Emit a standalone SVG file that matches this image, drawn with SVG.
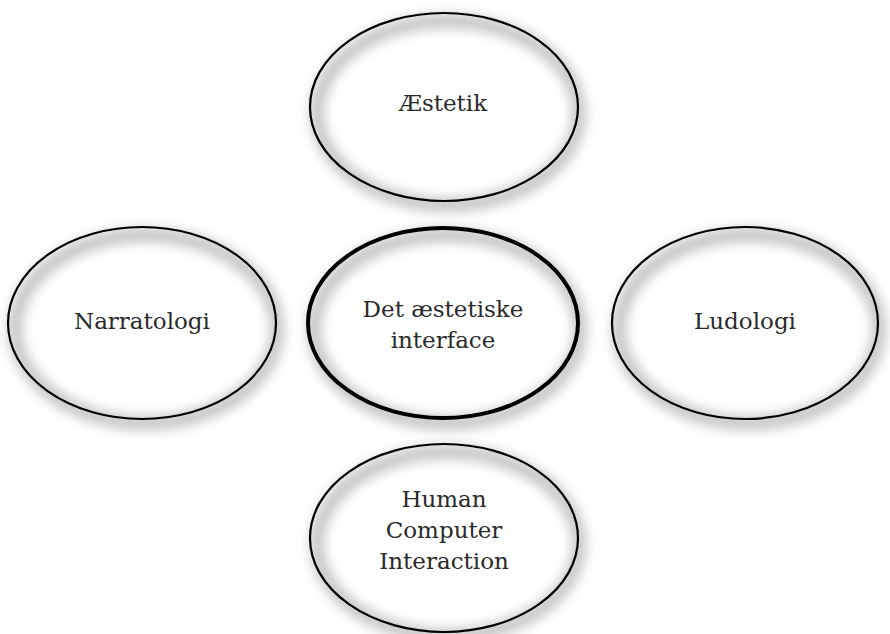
<svg xmlns="http://www.w3.org/2000/svg" width="890" height="634" viewBox="0 0 890 634">
<defs>
<filter id="sh" x="-20%" y="-20%" width="140%" height="140%"><feGaussianBlur stdDeviation="6"/></filter>
</defs>
<style>
.shadow{fill:none;stroke:#c4c4c4;stroke-width:14;filter:url(#sh)}
.node{fill:none;stroke:#000;stroke-width:2.2}
.main{fill:none;stroke:#000;stroke-width:4}
text{font-family:"DejaVu Serif","Liberation Serif",serif;font-size:23px;fill:#2a2a2a;text-anchor:middle}
</style>
<rect width="890" height="634" fill="#fff"/>
<g id="aestetik">
<ellipse class="shadow" cx="448" cy="113" rx="131" ry="92"/>
<ellipse class="node" cx="444" cy="107" rx="134" ry="94"/>
<text x="443" y="111">Æstetik</text>
</g>
<g id="narratologi">
<ellipse class="shadow" cx="146" cy="329" rx="131" ry="94"/>
<ellipse class="node" cx="142" cy="323" rx="134" ry="96"/>
<text x="142" y="329">Narratologi</text>
</g>
<g id="center">
<ellipse class="shadow" cx="447" cy="329" rx="133" ry="94"/>
<ellipse class="main" cx="443" cy="323" rx="135" ry="95"/>
<text x="443" y="317">Det æstetiske</text>
<text x="443" y="348">interface</text>
</g>
<g id="ludologi">
<ellipse class="shadow" cx="749" cy="329" rx="130" ry="94"/>
<ellipse class="node" cx="745" cy="323" rx="133" ry="96"/>
<text x="745" y="329">Ludologi</text>
</g>
<g id="hci">
<ellipse class="shadow" cx="448" cy="544" rx="131" ry="92"/>
<ellipse class="node" cx="444" cy="538" rx="134" ry="94"/>
<text x="444" y="507">Human</text>
<text x="444" y="538">Computer</text>
<text x="444" y="569">Interaction</text>
</g>
</svg>
